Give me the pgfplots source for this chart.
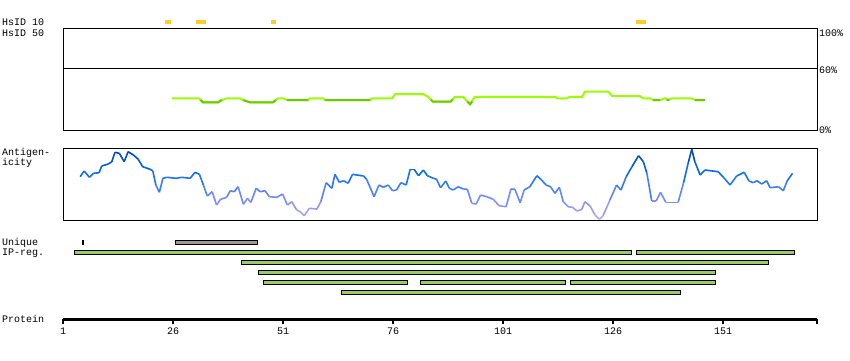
\documentclass[border=0pt]{standalone}
\usepackage{pgfplots}
\pgfplotsset{compat=1.18}
\usepackage{fontspec}
\setmainfont{Liberation Mono}
\definecolor{hsY}{HTML}{FFCC22}
\definecolor{hsL}{HTML}{99FF00}
\definecolor{hsD}{HTML}{66CC00}
\definecolor{barG}{HTML}{99CC66}
\definecolor{uniG}{HTML}{999999}
\pgfplotsset{
  colormap={ag}{rgb255(0cm)=(185,170,255); rgb255(20cm)=(130,140,255); rgb255(35cm)=(50,125,255); rgb255(50cm)=(0,105,240); rgb255(72cm)=(0,60,170)},
  base/.style={scale only axis, width=754pt, xmin=1, xmax=172.36, anchor=north west},
  bar/.style={draw=black, line width=1pt, fill=barG, line join=miter},
}
\begin{document}
\begin{tikzpicture}[font=\fontsize{10}{12}\selectfont]
\path[use as bounding box] (0pt,0pt) rectangle (850pt,-360pt);
% left labels
\node[anchor=base west, inner sep=0pt] at (2pt,-25.7pt) {HsID 10};
\node[anchor=base west, inner sep=0pt] at (2pt,-36pt) {HsID 50};
\node[anchor=base west, inner sep=0pt] at (2pt,-155.7pt) {Antigen-};
\node[anchor=base west, inner sep=0pt] at (2pt,-165.7pt) {icity};
\node[anchor=base west, inner sep=0pt] at (2pt,-245.5pt) {Unique};
\node[anchor=base west, inner sep=0pt] at (2pt,-255.5pt) {IP-reg.};
\node[anchor=base west, inner sep=0pt] at (2pt,-322.7pt) {Protein};

% HsID panel
\begin{axis}[base, at={(63pt,-28.3pt)}, height=101.7pt, ymin=0, ymax=100,
  axis line style={line width=1pt}, xtick=\empty, ytick={60},
  yticklabels={}, major tick length=0pt,
  ymajorgrids, grid style={black, line width=1pt},
  clip=false, unbounded coords=jump]
\node[anchor=west, inner sep=0pt, xshift=2pt, yshift=-4.4pt] at (axis cs:172.36,100) {100\%};
\node[anchor=west, inner sep=0pt, xshift=2pt, yshift=-1.6pt] at (axis cs:172.36,60) {60\%};
\node[anchor=west, inner sep=0pt, xshift=2pt] at (axis cs:172.36,0) {0\%};
\addplot[fill=hsY, draw=none] coordinates {(24.2,103.9)(25.5,103.9)(25.5,108.2)(24.2,108.2)} -- cycle;
\addplot[fill=hsY, draw=none] coordinates {(31.2,103.9)(33.5,103.9)(33.5,108.2)(31.2,108.2)} -- cycle;
\addplot[fill=hsY, draw=none] coordinates {(48.3,103.9)(49.4,103.9)(49.4,108.2)(48.3,108.2)} -- cycle;
\addplot[fill=hsY, draw=none] coordinates {(131.2,103.9)(133.5,103.9)(133.5,108.2)(131.2,108.2)} -- cycle;
\addplot[hsL, line width=2pt] coordinates {
(25.8,31.2)(31.9,31.2)(32.8,27.2)(36.2,27.2)(37.1,29.5)(38.3,31.2)(41.2,31.2)(41.9,29.5)(43.5,27.2)(48.7,27.2)
(49.9,31.2)(51,31.2)(51.9,29.5)(56.7,29.5)(57.1,31.2)(60.1,31.2)(60.5,29.5)(70.8,29.5)(71.2,31.2)(75.8,31.2)
(76.5,35.4)(82.8,35.4)(84,32.5)(85.1,27.8)(89,27.8)(90.1,32.7)(91.9,32.7)(93.5,25.3)(94.6,32.7)(112.8,32.7)
(113.3,31.2)(115.5,31.2)(116.2,32.7)(119,32.7)(119.6,37.7)(124.9,37.7)(125.8,33.4)(132.1,33.4)(132.8,31.2)(134.4,31.2)
(135.1,29.5)(136.7,29.5)(137.8,31.2)(138.5,29.5)(139.4,31.2)(143.9,31.2)(144.6,29.5)(146.9,29.5)};
\addplot[hsD, line width=2pt] coordinates {
(32.3,29.5)(32.8,27.2)(36.2,27.2)(37.1,29.5)(37.1,nan)
(41.9,29.5)(43.5,27.2)(48.7,27.2)(49.4,29.5)(49.4,nan)
(51.9,29.5)(56.7,29.5)(56.7,nan)
(60.5,29.5)(70.8,29.5)(70.8,nan)
(84.6,29.8)(85.1,27.8)(89,27.8)(89.6,29.8)(89.6,nan)
(92.9,28)(93.5,25.3)(94,28)(94,nan)
(135.1,29.5)(136.7,29.5)(136.7,nan)
(138.2,30)(138.5,29.5)(138.8,30)(138.8,nan)
(144.6,29.5)(146.9,29.5)};
\end{axis}

% Antigenicity panel
\begin{axis}[base, at={(63pt,-148.3pt)}, height=71.7pt, ymin=0, ymax=71.7,
  ticks=none, axis line style={line width=1pt}, colormap name=ag,
  point meta min=0, point meta max=72]
\addplot[mesh, point meta=y, line width=1.6pt] coordinates {
(4.9,43.3)(5.8,49)(7.0,42.7)(7.9,46.7)(9.2,47.3)(9.8,54)(11.3,56)(12.1,58.3)(12.8,67.7)(13.8,66.7)
(14.9,58.3)(15.8,68.3)(17.0,65)(18.1,60.7)(19.1,53.3)(20.8,50.7)(21.4,49.3)(22.1,35)(22.9,27.7)(23.7,41.7)
(24.6,42.7)(26.7,41.7)(28.0,42.7)(29.9,41.7)(31.0,47.7)(32.0,45.7)(32.9,35)(33.8,24)(34.9,28.3)(35.9,15)
(36.8,20.7)(38.2,22.7)(39.0,29.3)(39.9,28.3)(40.8,33.3)(42.0,15.7)(42.9,21.7)(43.7,17.7)(44.9,31.7)(45.8,28.3)
(46.9,29.3)(47.9,23.3)(49.6,22.7)(50.9,26)(52.0,15)(53.0,18.3)(54.1,10)(54.9,8.3)(55.8,4.3)(57.0,11.7)
(58.7,11)(59.6,18.3)(60.8,37.3)(62.1,31.7)(62.8,45.7)(63.8,37.7)(64.7,39.3)(65.8,36.7)(66.8,45.7)(69.3,44)
(70.0,40.7)(71.7,23.3)(72.8,35)(73.8,32.7)(74.9,35)(75.9,29.3)(76.8,30)(77.8,37.3)(79.0,35)(79.9,50.7)
(80.8,50.7)(81.8,44.3)(82.9,50)(83.8,44.3)(85.2,41.7)(85.9,40.7)(86.8,32.3)(88.0,39)(88.8,31.7)(89.7,30)
(90.8,33.3)(92.0,31)(92.9,30.7)(93.9,16.7)(94.9,16)(95.9,25)(97.3,23.3)(98.8,20.7)(100.1,14.3)(101.7,13.3)
(102.8,31)(103.7,30.7)(104.9,17.3)(105.8,30)(107.1,33.3)(108.7,44.3)(109.6,40.7)(110.8,35)(111.8,33.3)(112.8,26.7)
(113.8,32.7)(114.7,18.3)(115.8,13.3)(116.8,12.7)(117.8,9)(118.9,10.7)(119.6,18.3)(120.8,14)(121.9,5)(122.9,0.7)
(123.7,4)(125.3,20)(126.8,35)(127.8,30)(129.0,43.3)(130.3,53.3)(131.8,64.3)(132.9,58.3)(133.7,46.7)(134.8,19)
(135.8,19)(136.8,27.7)(138.0,17.7)(140.8,17.7)(142.0,36.7)(143.1,57.3)(143.9,70.7)(144.6,58.3)(145.8,45)(146.9,50)
(149.9,48.3)(151.1,42.7)(152.6,35)(154.1,44)(155.8,47.7)(156.9,39)(157.9,37.3)(158.7,39.3)(159.8,36)(160.9,39.3)
(161.7,32.3)(163.6,33.3)(164.7,29.3)(165.6,39.3)(166.8,46.7)};
\end{axis}

% Unique / IP-reg bars
\begin{axis}[base, at={(63pt,-236pt)}, height=64pt, ymin=236, ymax=300,
  y dir=reverse, axis lines=none, clip=false]
\addplot[fill=black, draw=none] coordinates {(5.39,240.3)(5.70,240.3)(5.70,244.7)(5.39,244.7)} -- cycle;
\addplot[bar, fill=uniG] coordinates {(26.50,240.8)(45.27,240.8)(45.27,244.2)(26.50,244.2)} -- cycle;
\addplot[bar] coordinates {(3.55,250.8)(130.14,250.8)(130.14,254.2)(3.55,254.2)} -- cycle;
\addplot[bar] coordinates {(131.41,250.8)(167.18,250.8)(167.18,254.2)(131.41,254.2)} -- cycle;
\addplot[bar] coordinates {(41.50,260.8)(161.27,260.8)(161.27,264.2)(41.50,264.2)} -- cycle;
\addplot[bar] coordinates {(45.50,270.8)(149.23,270.8)(149.23,274.2)(45.50,274.2)} -- cycle;
\addplot[bar] coordinates {(46.50,280.8)(79.23,280.8)(79.23,284.2)(46.50,284.2)} -- cycle;
\addplot[bar] coordinates {(82.32,280.8)(115.14,280.8)(115.14,284.2)(82.32,284.2)} -- cycle;
\addplot[bar] coordinates {(116.41,280.8)(149.23,280.8)(149.23,284.2)(116.41,284.2)} -- cycle;
\addplot[bar] coordinates {(64.36,290.8)(141.27,290.8)(141.27,294.2)(64.36,294.2)} -- cycle;
\end{axis}

% Protein axis
\begin{axis}[base, at={(63pt,-309.3pt)}, height=10pt, ymin=0, ymax=1,
  axis x line=bottom, axis y line=none, axis line style={line width=2.5pt, -},
  xtick={1,26,51,76,101,126,151}, extra x ticks={172.36}, extra x tick labels={},
  tick style={line width=2pt, black}, major tick length=5pt, tick align=outside,
  /pgf/number format/assume math mode=true,
  xticklabel style={inner sep=0pt, yshift=-3pt}]
\addplot[draw=none] coordinates {(1,0)(172,0)};
\end{axis}
\end{tikzpicture}
\end{document}
